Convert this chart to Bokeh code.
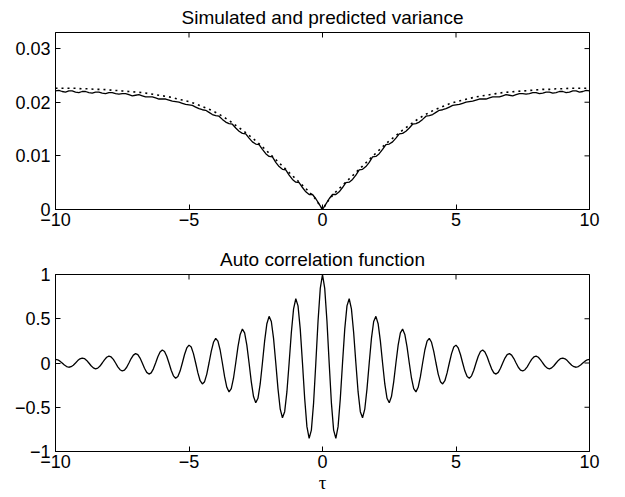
import numpy as np
from bokeh.plotting import figure
from bokeh.models import (Range1d, FixedTicker, ColumnDataSource,
                          CustomJSTickFormatter)
from bokeh.layouts import column
from bokeh.embed import file_html
from bokeh.resources import INLINE

# ---------------- data ----------------
# lag grids for the right half (tau >= 0); both functions are even in tau
lag_var = np.linspace(0.0, 10.0, 81)       # step 1/8
lag_pred = np.linspace(0.0, 10.0, 41)      # step 1/4
lag_acf = np.linspace(0.0, 10.0, 121)      # step 1/12

# simulated variance (solid), tau = 0 .. 10 step 1/8
var_simulated = [
    0.0000, 0.0010, 0.0020, 0.0028, 0.0028, 0.0033, 0.0041, 0.0050,
    0.0051, 0.0056, 0.0064, 0.0074, 0.0075, 0.0080, 0.0088, 0.0098,
    0.0099, 0.0104, 0.0112, 0.0121, 0.0122, 0.0126, 0.0133, 0.0141,
    0.0142, 0.0146, 0.0152, 0.0159, 0.0160, 0.0163, 0.0168, 0.0174,
    0.0175, 0.0177, 0.0181, 0.0185, 0.0186, 0.0188, 0.0191, 0.0194,
    0.0195, 0.0196, 0.0198, 0.0200, 0.0201, 0.0202, 0.0204, 0.0206,
    0.0206, 0.0206, 0.0208, 0.0210, 0.0210, 0.0210, 0.0212, 0.0214,
    0.0213, 0.0212, 0.0214, 0.0216, 0.0216, 0.0215, 0.0216, 0.0218,
    0.0218, 0.0216, 0.0217, 0.0219, 0.0219, 0.0217, 0.0218, 0.0220,
    0.0220, 0.0218, 0.0219, 0.0221, 0.0221, 0.0219, 0.0220, 0.0222,
    0.0221,
]

# predicted variance (dotted), tau = 0 .. 10 step 1/4
var_predicted = [
    0.0000, 0.0019, 0.0033, 0.0045, 0.0057, 0.0069, 0.0081, 0.0093,
    0.0105, 0.0117, 0.0128, 0.0138, 0.0148, 0.0157, 0.0166, 0.0174,
    0.0181, 0.0187, 0.0192, 0.0197, 0.0201, 0.0204, 0.0207, 0.0210,
    0.0212, 0.0214, 0.0216, 0.0218, 0.0219, 0.0220, 0.0221, 0.0222,
    0.0223, 0.0224, 0.0224, 0.0225, 0.0225, 0.0226, 0.0226, 0.0226,
    0.0226,
]

# auto correlation function, tau = 0 .. 10 step 1/12 (one row per unit of tau)
acf = [
    1.000, 0.843, 0.474, 0.0, -0.450, -0.758, -0.852, -0.719, -0.404, 0.0, 0.383, 0.646,
    0.726, 0.612, 0.344, 0.0, -0.327, -0.550, -0.619, -0.522, -0.293, 0.0, 0.278, 0.469,
    0.527, 0.444, 0.250, 0.0, -0.237, -0.399, -0.449, -0.379, -0.213, 0.0, 0.202, 0.340,
    0.383, 0.323, 0.182, 0.0, -0.172, -0.290, -0.326, -0.275, -0.155, 0.0, 0.147, 0.247,
    0.278, 0.234, 0.132, 0.0, -0.125, -0.211, -0.237, -0.200, -0.112, 0.0, 0.106, 0.180,
    0.202, 0.170, 0.096, 0.0, -0.091, -0.153, -0.172, -0.145, -0.082, 0.0, 0.077, 0.130,
    0.147, 0.124, 0.070, 0.0, -0.066, -0.111, -0.125, -0.106, -0.059, 0.0, 0.056, 0.095,
    0.106, 0.089, 0.050, 0.0, -0.048, -0.080, -0.090, -0.076, -0.043, 0.0, 0.041, 0.068,
    0.077, 0.065, 0.036, 0.0, -0.035, -0.058, -0.066, -0.055, -0.031, 0.0, 0.029, 0.050,
    0.056, 0.047, 0.027, 0.0, -0.025, -0.042, -0.048, -0.040, -0.023, 0.0, 0.021, 0.036,
    0.041,
]

x_lim = (-10, 10)
var_lim = (0, 0.033)
acf_lim = (-1, 1)
x_ticks = [-10, -5, 0, 5, 10]
var_ticks = [0, 0.01, 0.02, 0.03]
acf_ticks = [-1, -0.5, 0, 0.5, 1]
title_top = "Simulated and predicted variance"
title_bottom = "Auto correlation function"
x_label = "\u03c4"


def mirror(lags, vals):
    lags = np.asarray(lags, dtype=float)
    vals = np.asarray(vals, dtype=float)
    return (np.concatenate([-lags[:0:-1], lags]),
            np.concatenate([vals[:0:-1], vals]))


FONT = "Liberation Sans"
FS = "18px"
fmt = CustomJSTickFormatter(code="return String(tick).replace('-', '\u2212');")


def style(p, yticks, ylim):
    p.xgrid.visible = False
    p.ygrid.visible = False
    p.outline_line_color = "black"
    p.outline_line_width = 1
    p.background_fill_color = "white"
    p.border_fill_color = "white"
    xa, ya = p.below[0], p.left[0]
    for ax in (xa, ya):
        ax.major_tick_in = 5
        ax.major_tick_out = 0
        ax.minor_tick_line_color = None
        ax.axis_line_color = "black"
        ax.major_tick_line_color = "black"
        ax.major_label_text_font = FONT
        ax.major_label_text_font_size = FS
        ax.major_label_text_color = "black"
        ax.formatter = fmt
    xa.ticker = FixedTicker(ticks=x_ticks)
    ya.ticker = FixedTicker(ticks=yticks)
    xa.major_label_standoff = 3
    ya.major_label_standoff = 5
    # mirrored inner tick marks on the top and right edges (box style);
    # markers centred on the edge, the outer half is clipped by the frame
    p.scatter(x=x_ticks, y=[ylim[1]] * len(x_ticks), marker="dash",
              angle=np.pi / 2, size=10, line_color="black", line_width=1)
    p.scatter(x=[x_lim[1]] * len(yticks), y=yticks, marker="dash",
              size=10, line_color="black", line_width=1)
    p.title.text_font = FONT
    p.title.text_font_size = "19px"
    p.title.text_font_style = "normal"
    p.title.text_color = "black"
    p.title.align = "center"
    p.title.standoff = 9


# ---------------- top: variance ----------------
p1 = figure(width=609, height=242,
            x_range=Range1d(*x_lim), y_range=Range1d(*var_lim),
            output_backend="svg", toolbar_location=None,
            min_border_left=55, min_border_right=20,
            min_border_top=31, min_border_bottom=33,
            title=title_top)
style(p1, var_ticks, var_lim)
xs, ys = mirror(lag_var, var_simulated)
p1.line(x="t", y="v", source=ColumnDataSource(dict(t=xs, v=ys)),
        line_color="black", line_width=1.3)
xp, yp = mirror(lag_pred, var_predicted)
p1.line(x="t", y="v", source=ColumnDataSource(dict(t=xp, v=yp)),
        line_color="black", line_width=1.6, line_dash="2 4")

# ---------------- bottom: auto correlation ----------------
p2 = figure(width=609, height=253,
            x_range=Range1d(*x_lim), y_range=Range1d(*acf_lim),
            output_backend="svg", toolbar_location=None,
            min_border_left=55, min_border_right=20,
            min_border_top=31, min_border_bottom=43,
            title=title_bottom)
style(p2, acf_ticks, acf_lim)
xa_, ya_ = mirror(lag_acf, acf)
p2.line(x="t", y="r", source=ColumnDataSource(dict(t=xa_, r=ya_)),
        line_color="black", line_width=1.3)
bx = p2.below[0]
bx.axis_label = x_label
bx.axis_label_text_font = "Liberation Serif"
bx.axis_label_text_font_size = "19px"
bx.axis_label_text_font_style = "normal"
bx.axis_label_text_color = "black"
bx.axis_label_standoff = 1

layout = column(p1, p2, spacing=0)
open("out.html", "w").write(file_html(layout, INLINE))
